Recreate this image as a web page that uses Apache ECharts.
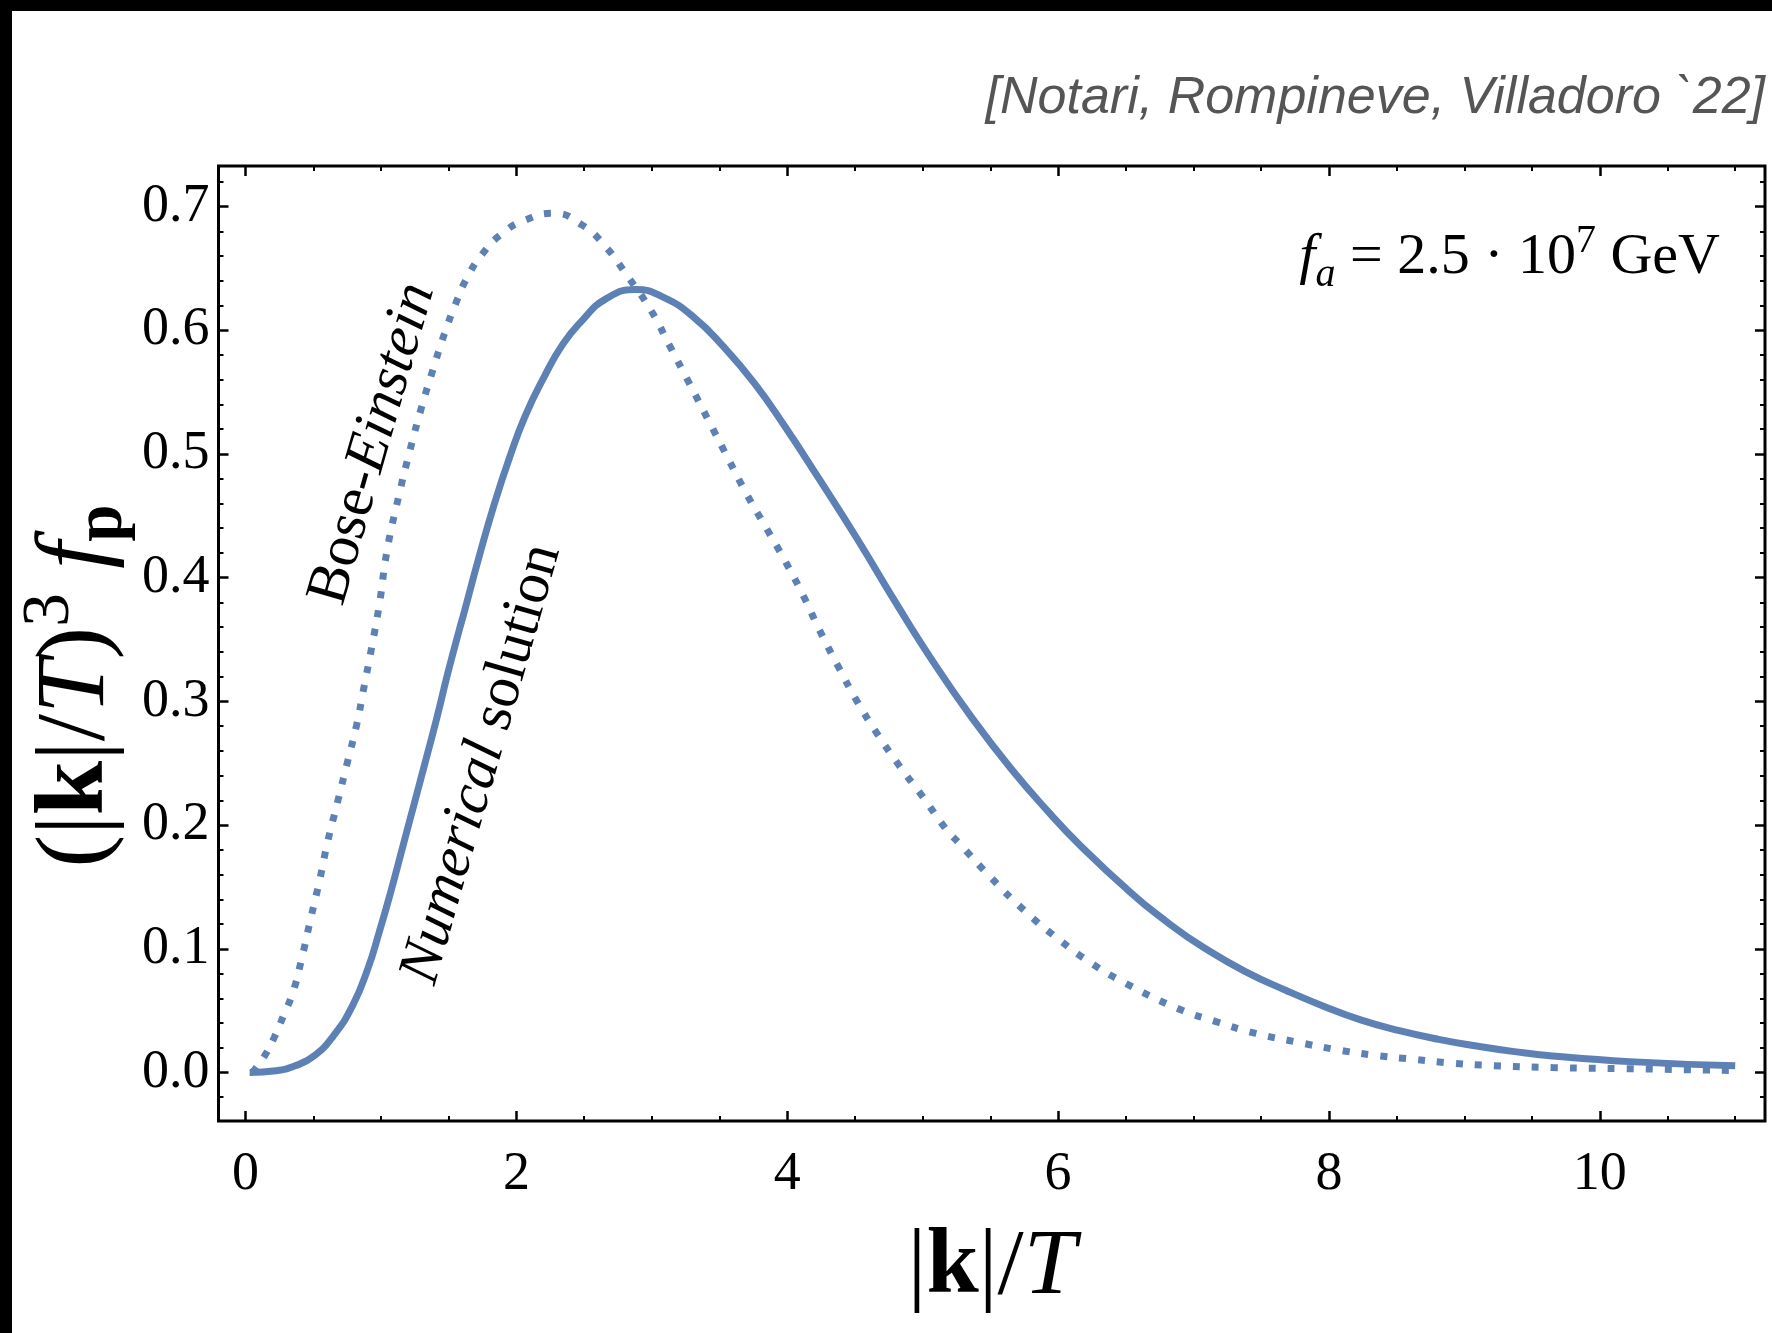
<!DOCTYPE html>
<html><head><meta charset="utf-8">
<script src="https://cdn.jsdelivr.net/npm/echarts@6/dist/echarts.min.js"></script>
<style>html,body{margin:0;padding:0;background:#fff}#c{width:1772px;height:1333px}</style>
</head><body><div id="c"></div>
<script>
// ---- data ----
const beX = [0.05, 0.14, 0.21, 0.28, 0.35, 0.41, 0.48, 0.55, 0.605, 0.68, 0.75, 0.82, 0.875, 0.93, 0.99, 1.044, 1.129, 1.214, 1.30, 1.383, 1.468, 1.553, 1.638, 1.75, 1.892, 2.062, 2.274, 2.486, 2.655, 2.825, 2.994, 3.136, 3.277, 3.419, 3.56, 3.70, 3.843, 3.984, 4.125, 4.234, 4.375, 4.516, 4.66, 4.83, 5.0, 5.167, 5.28, 5.5, 5.75, 6.0, 6.25, 6.5, 6.884, 7.17, 7.46, 7.75, 8.04, 8.32, 8.62, 8.92, 9.21, 9.65, 10.25, 10.98];
const beY = [0.0, 0.0135, 0.028, 0.046, 0.065, 0.090, 0.124, 0.157, 0.186, 0.219, 0.25, 0.281, 0.312, 0.343, 0.38, 0.4216, 0.465, 0.503, 0.538, 0.568, 0.597, 0.622, 0.643, 0.662, 0.678, 0.689, 0.6946, 0.685, 0.668, 0.643, 0.616, 0.5865, 0.557, 0.527, 0.497, 0.4676, 0.4405, 0.4135, 0.384, 0.3585, 0.3285, 0.30, 0.2746, 0.2476, 0.223, 0.1976, 0.184, 0.158, 0.131, 0.108, 0.088, 0.072, 0.0517, 0.041, 0.0316, 0.0249, 0.0188, 0.0142, 0.0107, 0.0075, 0.0056, 0.004, 0.003, 0.0016];

const numX = [0.03, 0.224, 0.366, 0.507, 0.649, 0.79, 0.903, 0.987, 1.072, 1.157, 1.242, 1.327, 1.411, 1.496, 1.581, 1.609, 1.722, 1.835, 1.949, 2.062, 2.203, 2.344, 2.486, 2.655, 2.881, 3.079, 3.305, 3.531, 3.758, 3.984, 4.234, 4.516, 4.80, 5.08, 5.365, 5.65, 5.93, 6.156, 6.5, 6.83, 7.11, 7.39, 7.68, 7.96, 8.24, 8.52, 8.81, 9.09, 9.37, 9.65, 10.22, 11.0];
const numY = [0.0, 0.0014, 0.0054, 0.0135, 0.0297, 0.054, 0.084, 0.1135, 0.146, 0.181, 0.216, 0.251, 0.286, 0.324, 0.359, 0.370, 0.416, 0.459, 0.497, 0.530, 0.562, 0.589, 0.608, 0.625, 0.633, 0.627, 0.611, 0.5865, 0.557, 0.522, 0.480, 0.4315, 0.380, 0.3315, 0.2865, 0.246, 0.2105, 0.1844, 0.149, 0.1195, 0.0986, 0.0812, 0.0665, 0.0536, 0.0423, 0.0338, 0.0268, 0.0214, 0.0169, 0.0134, 0.0088, 0.0054];

const xMajorTicks = [0, 2, 4, 6, 8, 10];
const xMinorTicks = [0.5, 1, 1.5, 2.5, 3, 3.5, 4.5, 5, 5.5, 6.5, 7, 7.5, 8.5, 9, 9.5, 10.5, 11];
const yMajorTicks = [0, 0.1, 0.2, 0.3, 0.4, 0.5, 0.6, 0.7];
const yMinorTicks = [-0.02, 0.02, 0.04, 0.06, 0.08, 0.12, 0.14, 0.16, 0.18, 0.22, 0.24, 0.26, 0.28, 0.32, 0.34, 0.36, 0.38, 0.42, 0.44, 0.46, 0.48, 0.52, 0.54, 0.56, 0.58, 0.62, 0.64, 0.66, 0.68, 0.72];
const xRange = [-0.2, 11.22];
const yRange = [-0.0392, 0.7328];

// ---- styling ----
const SERIF = '"Liberation Serif", "DejaVu Serif", serif';
const SANS = '"Liberation Sans", Arial, sans-serif';
const BLUE = '#5e81b5';

const chart = echarts.init(document.getElementById('c'), null, {renderer: 'canvas', width: 1772, height: 1333});

function axisDef(kind, pos, ticks, len, width, labels) {
  const a = {
    type: 'value', position: pos, min: kind === 'x' ? xRange[0] : yRange[0], max: kind === 'x' ? xRange[1] : yRange[1],
    axisLine: {show: false, onZero: false},
    splitLine: {show: false},
    axisTick: {show: true, inside: true, length: len, customValues: ticks, lineStyle: {color: '#000', width: width}},
    axisLabel: {show: false},
    silent: true
  };
  if (labels) {
    a.axisLabel = {
      show: true, customValues: ticks, color: '#000', fontFamily: SERIF, fontSize: 54,
      margin: kind === 'x' ? 27 : 9,
      formatter: kind === 'x' ? (v => String(Math.round(v))) : (v => v.toFixed(1))
    };
  }
  return a;
}

const xAxes = [
  axisDef('x', 'bottom', xMajorTicks, 10, 2.5, true),
  axisDef('x', 'bottom', xMinorTicks, 5, 2, false),
  axisDef('x', 'top', xMajorTicks, 10, 2.5, false),
  axisDef('x', 'top', xMinorTicks, 5, 2, false)
];
const yAxes = [
  axisDef('y', 'left', yMajorTicks, 10, 2.5, true),
  axisDef('y', 'left', yMinorTicks, 5, 2, false),
  axisDef('y', 'right', yMajorTicks, 10, 2.5, false),
  axisDef('y', 'right', yMinorTicks, 5, 2, false)
];

function mathStyles(fs) {
  return {
    n: {fontFamily: SERIF, fontSize: fs, lineHeight: Math.round(fs * 1.23), fontWeight: 'normal', color: '#000'},
    b: {fontFamily: SERIF, fontSize: fs, lineHeight: Math.round(fs * 1.23), fontWeight: 'bold', color: '#000'},
    i: {fontFamily: SERIF, fontSize: fs, lineHeight: Math.round(fs * 1.23), fontWeight: 'normal', fontStyle: 'italic', color: '#000'},
    sup: {fontFamily: SERIF, fontSize: Math.round(fs * 0.68), lineHeight: Math.round(fs * 0.68), fontWeight: 'normal', verticalAlign: 'top', color: '#000'},
    sub: {fontFamily: SERIF, fontSize: Math.round(fs * 0.68), lineHeight: Math.round(fs * 0.85), verticalAlign: 'bottom', fontWeight: 'bold', color: '#000'}
  };
}

xAxes[0].name = '{n||}{b|k}{n||/}{i|T}';
xAxes[0].nameLocation = 'middle';
xAxes[0].nameGap = 89;
xAxes[0].nameTextStyle = {rich: mathStyles(94), fontWeight: 'normal'};

const labRich = {
  n: {fontFamily: SERIF, fontSize: 59, lineHeight: 74, color: '#000'},
  i: {fontFamily: SERIF, fontSize: 59, lineHeight: 74, fontStyle: 'italic', color: '#000'},
  sup: {fontFamily: SERIF, fontSize: 40, lineHeight: 40, verticalAlign: 'top', color: '#000'},
  sub: {fontFamily: SERIF, fontSize: 40, lineHeight: 58, verticalAlign: 'bottom', fontStyle: 'italic', color: '#000'}
};
const fRich = Object.assign({}, labRich, {
  n: {fontFamily: SERIF, fontSize: 58, lineHeight: 74, color: '#000'},
  i: {fontFamily: SERIF, fontSize: 58, lineHeight: 74, fontStyle: 'italic', color: '#000'}
});

const option = {
  backgroundColor: '#fff',
  animation: false,
  grid: {left: 218.5, right: 7, top: 166, bottom: 212, show: true, borderColor: '#000', borderWidth: 3, backgroundColor: 'transparent', containLabel: false, outerBoundsMode: 'none'},
  xAxis: xAxes,
  yAxis: yAxes,
  series: [
    {
      name: 'Numerical solution', type: 'line', xAxisIndex: 0, yAxisIndex: 0,
      data: numX.map((x, i) => [x, numY[i]]),
      showSymbol: false, smooth: 0.5,
      lineStyle: {color: BLUE, width: 7, cap: 'butt', join: 'round'}, z: 3
    },
    {
      name: 'Bose-Einstein', type: 'line', xAxisIndex: 0, yAxisIndex: 0,
      data: beX.map((x, i) => [x, beY[i]]),
      showSymbol: false, smooth: 0.5,
      lineStyle: {color: BLUE, width: 7, type: [7, 12], cap: 'butt'}, z: 4
    }
  ],
  graphic: [
    {type: 'rect', shape: {x: 0, y: 0, width: 1772, height: 11}, style: {fill: '#000'}, silent: true, z: 100},
    {type: 'rect', shape: {x: 0, y: 0, width: 12, height: 1333}, style: {fill: '#000'}, silent: true, z: 100},
    {type: 'text', x: 1765, y: 99, silent: true,
      style: {text: '[Notari, Rompineve, Villadoro `22]', font: 'italic 52px ' + SANS, fill: '#555', align: 'right', verticalAlign: 'middle'}},
    {type: 'text', x: 1720, y: 258, silent: true,
      style: {text: '{i|f}{sub|a}{n| = 2.5 · 10}{sup|7}{n| GeV}', rich: fRich, align: 'right', verticalAlign: 'middle'}},
    {type: 'text', x: 373, y: 444, rotation: 74 * Math.PI / 180, silent: true,
      style: {text: '{n|Bose-}{i|Einstein}', rich: labRich, align: 'center', verticalAlign: 'middle'}},
    {type: 'text', x: 482, y: 764, rotation: 74 * Math.PI / 180, silent: true,
      style: {text: '{i|Numerical}{n| solution}', rich: labRich, align: 'center', verticalAlign: 'middle'}},
    {type: 'text', x: 77, y: 686, rotation: Math.PI / 2, silent: true,
      style: {text: '{n|(|}{b|k}{n||/}{i|T}{n|)}{sup|3}{i| f}{sub|p}', rich: mathStyles(98), align: 'center', verticalAlign: 'middle'}}
  ]
};
chart.setOption(option);
</script></body></html>
